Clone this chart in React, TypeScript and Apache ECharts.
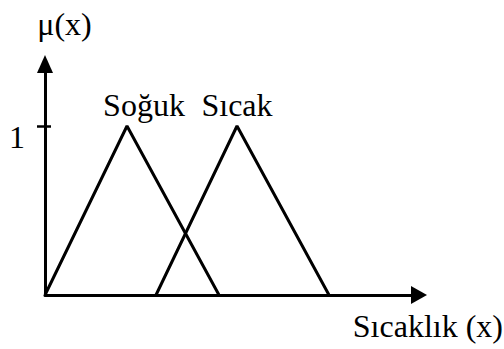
import React, { useEffect, useRef } from "react";
import * as echarts from "echarts";

const seriesNames = ["Soğuk", "Sıcak"];
const sogukX = [0, 82, 174];
const sogukY = [0, 1, 0];
const sicakX = [111, 192, 284];
const sicakY = [0, 1, 0];
const yTickValues = [1];
const xAxisName = "Sıcaklık (x)";
const yAxisName = "μ(x)";

const FONT = "Liberation Serif, Times New Roman, serif";
const FS = 32;

function buildData(xs: number[], ys: number[], name: string, offsetX: number) {
  return xs.map((x, i) =>
    ys[i] === 1
      ? {
          value: [x, ys[i]],
          label: {
            show: true,
            position: "top",
            distance: 5,
            formatter: name,
            offset: [offsetX, 0],
            fontFamily: FONT,
            fontSize: FS,
            color: "#000",
          },
        }
      : { value: [x, ys[i]], label: { show: false } }
  );
}

export default function App() {
  const ref = useRef<HTMLDivElement>(null);
  useEffect(() => {
    const chart = echarts.init(ref.current!, null, { renderer: "svg" });
    const yMax = 231 / 169;
    chart.setOption({
      animation: false,
      backgroundColor: "#fff",
      textStyle: { fontFamily: FONT },
      grid: { left: 45, right: 85, top: 64, bottom: 54, outerBoundsMode: "none" },
      xAxis: {
        type: "value",
        min: 0,
        max: 374,
        name: xAxisName,
        nameLocation: "end",
        nameGap: 84,
        nameTextStyle: {
          fontFamily: FONT,
          fontSize: FS,
          color: "#000",
          align: "right",
          verticalAlign: "top",
          lineHeight: 62,
        },
        axisLine: {
          show: true,
          symbol: ["none", "triangle"],
          symbolSize: [18, 16],
          lineStyle: { color: "#000", width: 3 },
        },
        axisTick: { show: false },
        axisLabel: { show: false },
        splitLine: { show: false },
      },
      yAxis: [
        {
          type: "value",
          min: 0,
          max: yMax,
          name: yAxisName,
          nameLocation: "end",
          nameGap: 24,
          nameTextStyle: {
            fontFamily: FONT,
            fontSize: FS,
            color: "#000",
            align: "center",
            padding: [0, 0, 0, 39],
          },
          axisLine: {
            show: true,
            symbol: ["none", "triangle"],
            symbolSize: [16, 18],
            lineStyle: { color: "#000", width: 3 },
          },
          axisTick: {
            show: true,
            customValues: yTickValues,
            length: 8,
            inside: false,
            lineStyle: { color: "#000", width: 2.5 },
          },
          axisLabel: {
            show: true,
            customValues: yTickValues,
            margin: 20,
            fontFamily: FONT,
            fontSize: FS,
            color: "#000",
            verticalAlign: "top",
            lineHeight: 22,
          },
          splitLine: { show: false },
        },
        {
          type: "value",
          min: 0,
          max: yMax,
          position: "left",
          axisLine: { show: false },
          axisTick: {
            show: true,
            customValues: yTickValues,
            length: 6,
            inside: true,
            lineStyle: { color: "#000", width: 2.5 },
          },
          axisLabel: { show: false },
          splitLine: { show: false },
        },
      ],
      series: [
        {
          name: seriesNames[0],
          type: "line",
          data: buildData(sogukX, sogukY, seriesNames[0], 17),
          symbol: "circle",
          symbolSize: 0.01,
          showSymbol: true,
          itemStyle: { color: "#000" },
          lineStyle: { color: "#000", width: 3 },
        },
        {
          name: seriesNames[1],
          type: "line",
          data: buildData(sicakX, sicakY, seriesNames[1], 0),
          symbol: "circle",
          symbolSize: 0.01,
          showSymbol: true,
          itemStyle: { color: "#000" },
          lineStyle: { color: "#000", width: 3 },
        },
      ],
    });
    return () => chart.dispose();
  }, []);
  return (
    <div
      ref={ref}
      style={{ width: 504, height: 349, position: "absolute", left: 0, top: 0 }}
    />
  );
}
